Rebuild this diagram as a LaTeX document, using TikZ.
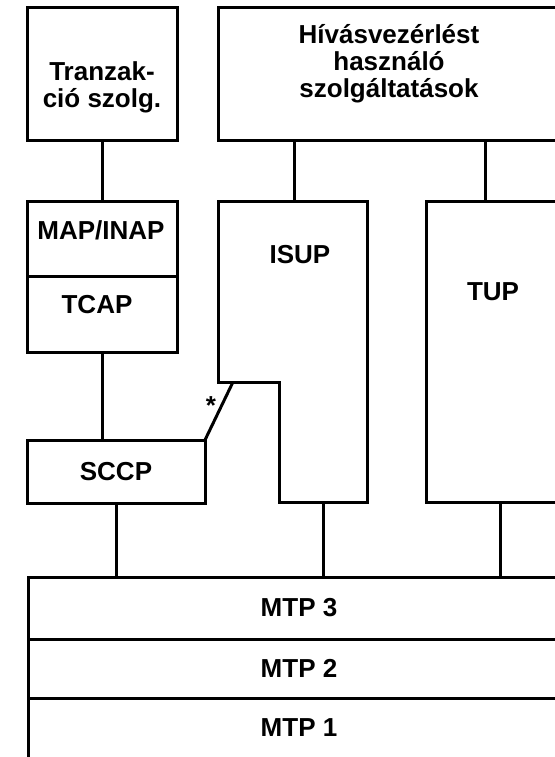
\documentclass[tikz,border=0pt]{standalone}
\usepackage{fontspec}
\setmainfont{Liberation Sans}
\usetikzlibrary{calc}

\begin{document}
\begin{tikzpicture}[x=0.5pt, y=-0.5pt, line width=1.5pt, inner sep=0, outer sep=0,
    blk/.style={rectangle, draw=black, line width=1.5pt},
    lbl/.style={align=center, font=\fontsize{13}{13.5}\selectfont\bfseries}]
  \useasboundingbox (0,0) rectangle (555,757);
  \clip (0,0) rectangle (555,757);

  % upper row
  \node[blk, minimum width=75pt, minimum height=66.5pt] (tranz) at (102,73.5) {};
  \node[lbl] (tranzlbl) at (102,87) {Tranzak-\\ció szolg.};
  \node[blk, minimum width=171pt, minimum height=66.5pt] (hivas) at (389,73.5) {};
  \node[lbl] (hivaslbl) at (389,64) {Hívásvezérlést\\használó\\szolgáltatások};

  % left stack
  \node[blk, minimum width=75pt, minimum height=37.5pt] (map) at (102,238.5) {};
  \node[lbl] (maplbl) at (101,230) {MAP/INAP};
  \node[blk, minimum width=75pt, minimum height=38pt] (tcap) at (102,314) {};
  \node[lbl] (tcaplbl) at (97,305) {TCAP};
  \node[blk, minimum width=89pt, minimum height=31.5pt] (sccp) at (116,471.5) {};
  \node[lbl] (sccplbl) at (116,472) {SCCP};

  % isup outline
  \draw[line join=miter] (218,201) -- (367,201) -- (367,502) -- (279,502)
    -- (279,382) -- (218,382) -- cycle;
  \node[lbl] (isuplbl) at (300,255) {ISUP};

  \node[blk, minimum width=67pt, minimum height=150.5pt] (tup) at (493,351.5) {};
  \node[lbl] (tuplbl) at (493,292) {TUP};

  % mtp layers
  \node[blk, minimum width=271pt, minimum height=31pt] (mtp3) at (299,608) {};
  \node[lbl] (mtp3lbl) at (299,608) {MTP 3};
  \node[blk, minimum width=271pt, minimum height=29.5pt] (mtp2) at (299,668.5) {};
  \node[lbl] (mtp2lbl) at (299,668.5) {MTP 2};
  \node[blk, minimum width=271pt, minimum height=31pt] (mtp1) at (299,729) {};
  \node[lbl] (mtp1lbl) at (299,728) {MTP 1};

  \coordinate (isupin) at (294,201);
  \coordinate (tupin) at (485,201);
  \coordinate (isupout) at (323,502);
  \coordinate (tupout) at (500,502);
  \coordinate (isupknee) at (233,382);

  \draw (tranz.south) -- (map.north);
  \draw (isupin |- hivas.south) -- (isupin);
  \draw (tupin |- hivas.south) -- (tupin);
  \draw (tcap.south) -- (tcap.south |- sccp.north);
  \draw (sccp.south) -- (sccp.south |- mtp3.north);
  \draw (isupout) -- (isupout |- mtp3.north);
  \draw (tupout) -- (tupout |- mtp3.north);
  % sccp to isup link
  \draw (isupknee) -- (sccp.north east);
  \node[lbl] (star) at (211,406) {*};
\end{tikzpicture}
\end{document}
